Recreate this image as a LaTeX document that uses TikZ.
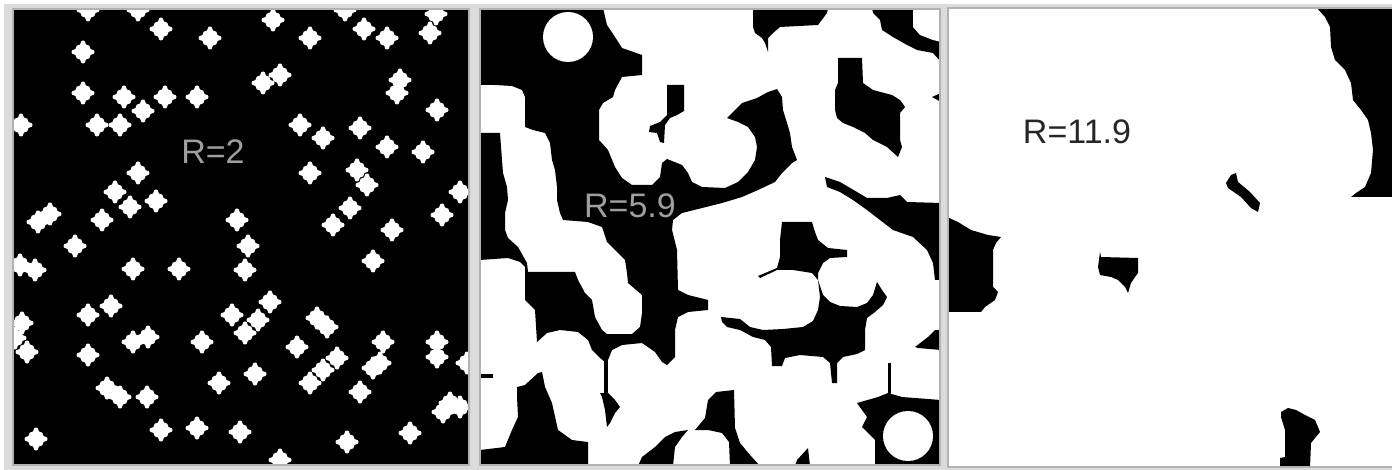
\documentclass[tikz,border=0pt]{standalone}
\usepackage{fontspec}
\setmainfont{Liberation Sans}
\usepackage{tikz}
\usetikzlibrary{positioning}

\tikzset{
  spot/.style={fill=white, rounded corners=2.2pt},
  ink/.style={fill=black},
  frame/.style={draw=gray!60, line width=1.2pt},
  lab/.style={inner sep=0pt, font=\fontsize{34}{40}\selectfont}
}

\begin{document}
\begin{tikzpicture}[x=1pt, y=-1pt]
  \useasboundingbox (0,0) rectangle (1392,470);
  \fill[white] (0,0) rectangle (1392,470);
  \fill[gray!28] (4,4) rectangle (1392,470);

  % --- panel 1: R=2, small diamonds
  \fill[black] (13,9) rectangle (469,465);
  \begin{scope}
    \clip (13,9) rectangle (469,465);
    \foreach \x/\y in {88/10, 138/10, 161/29, 210/38, 83/52, 83/93, 124/97,
      165/97, 197/97, 143/111, 97/125, 120/125, 21/125, 138/173, 115/192,
      130/207, 156/201, 38/222, 50/214, 102/220, 237/220, 75/246,
      273/20, 345/10, 364/29, 387/38, 310/38, 430/33, 436/14, 263/83,
      280/75, 400/80, 397/93, 437/110, 300/125, 323/138, 360/128, 387/147,
      423/152, 310/173, 357/170, 367/185, 460/192, 333/225, 350/208,
      392/230, 442/215,
      20/265, 35/270, 133/269, 179/269, 88/315, 111/306, 22/323, 27/352,
      15/338, 133/342, 148/337, 202/342, 88/355, 232/315, 107/388, 120/397,
      147/397, 219/383, 161/430, 197/428, 36/439, 240/432,
      248/246, 245/270, 373/261, 270/302, 258/320, 245/333, 317/318,
      327/327, 297/347, 337/358, 323/370, 310/383, 255/374, 383/342,
      373/368, 380/363, 360/392, 437/342, 437/357, 467/363, 450/403,
      460/407, 443/412, 347/442, 410/433, 280/460} {
      \fill[spot] (\x,\y) +(2.3,-11.5) -- +(2.3,-6.9) -- +(6.9,-6.9)
        -- +(6.9,-2.3) -- +(11.5,-2.3) -- +(11.5,2.3) -- +(6.9,2.3)
        -- +(6.9,6.9) -- +(2.3,6.9) -- +(2.3,11.5) -- +(-2.3,11.5)
        -- +(-2.3,6.9) -- +(-6.9,6.9) -- +(-6.9,2.3) -- +(-11.5,2.3)
        -- +(-11.5,-2.3) -- +(-6.9,-2.3) -- +(-6.9,-6.9) -- +(-2.3,-6.9)
        -- +(-2.3,-11.5) -- cycle;
    }
  \end{scope}
  \draw[frame] (13,9) rectangle (469,465);
  \node[lab, text=gray!75] (r2) at (213,152) {R=2};

  % --- panel 2: R=5.9, the black gaps between the disks
  \fill[white] (480,9) rectangle (940,465);
  \begin{scope}
    \clip (480,9) rectangle (940,465);
    % big connected gap
    \fill[ink] (480,8) -- (603,8) -- (607,25) -- (615,37) -- (622,48)
      -- (642,55) -- (642,75) -- (622,77) -- (615,90) -- (613,97)
      -- (603,103) -- (599,110) -- (599,140) -- (608,150) -- (615,167)
      -- (622,178) -- (632,185) -- (652,185) -- (660,177) -- (662,163)
      -- (667,159) -- (682,165) -- (688,173) -- (692,182) -- (702,187)
      -- (725,188) -- (738,182) -- (748,172) -- (755,160) -- (757,147)
      -- (755,137) -- (748,127) -- (738,122) -- (727,118) -- (732,113)
      -- (742,103) -- (757,98) -- (768,92) -- (777,89) -- (782,97)
      -- (783,110) -- (787,123) -- (790,133) -- (792,147) -- (797,160)
      -- (792,163) -- (782,173) -- (775,182) -- (758,190) -- (742,197)
      -- (722,203) -- (702,208) -- (682,213) -- (673,220) -- (672,230)
      -- (677,250) -- (678,290) -- (688,295) -- (708,300) -- (708,310)
      -- (688,312) -- (678,317) -- (675,330) -- (675,357) -- (667,365)
      -- (662,362) -- (655,352) -- (642,343) -- (622,345) -- (612,350)
      -- (608,360) -- (605,362) -- (600,358) -- (592,350) -- (588,340)
      -- (578,332) -- (560,330) -- (547,333) -- (537,342) -- (535,310)
      -- (525,300) -- (525,267) -- (520,262) -- (508,258) -- (480,260)
      -- (480,133) -- (500,133) -- (502,160) -- (503,173) -- (507,187)
      -- (508,200) -- (505,213) -- (505,230) -- (508,238) -- (518,247)
      -- (527,263) -- (528,272) -- (575,272) -- (578,280) -- (585,293)
      -- (592,300) -- (595,317) -- (602,330) -- (607,334) -- (632,334)
      -- (640,327) -- (642,313) -- (642,295) -- (628,283) -- (627,273)
      -- (625,260) -- (615,250) -- (607,242) -- (603,230) -- (602,227)
      -- (588,222) -- (563,220) -- (560,213) -- (557,200) -- (557,187)
      -- (555,170) -- (552,160) -- (550,143) -- (545,133) -- (533,130)
      -- (525,127) -- (525,97) -- (522,90) -- (512,86) -- (495,85)
      -- (480,85) -- cycle;
    \fill[white] (568,37) circle[radius=25pt];
    % smaller gaps
    \fill[ink] (667,85) -- (684,85) -- (684,111) -- (677,115) -- (670,118)
      -- (665,125) -- (664,143) -- (660,142) -- (657,133) -- (649,132)
      -- (650,126) -- (660,122) -- (667,115) -- cycle;
    \fill[ink] (753,8) -- (828,8) -- (827,13) -- (818,25) -- (780,27)
      -- (773,33) -- (768,38) -- (768,52) -- (765,43) -- (762,38)
      -- (755,33) -- (753,27) -- cycle;
    \fill[ink] (872,8) -- (941,8) -- (941,62) -- (933,53) -- (917,50)
      -- (907,45) -- (893,37) -- (882,30) -- (880,20) -- (873,13) -- cycle;
    \fill[white] (913,8) -- (913,27) -- (920,35) -- (933,40) -- (941,42)
      -- (941,8) -- cycle;
    \fill[ink] (838,58) -- (862,58) -- (863,83) -- (873,90) -- (892,95)
      -- (900,100) -- (905,107) -- (900,113) -- (900,140) -- (902,147)
      -- (898,157) -- (887,147) -- (873,140) -- (865,133) -- (853,127)
      -- (843,123) -- (837,118) -- (835,110) -- (835,90) -- (838,83) -- cycle;
    \fill[ink] (932,97) -- (941,93) -- (941,102) -- cycle;
    \fill[ink] (825,177) -- (840,182) -- (857,192) -- (867,198) -- (887,198)
      -- (900,195) -- (907,202) -- (941,203) -- (941,280) -- (935,280)
      -- (933,263) -- (927,250) -- (913,237) -- (893,230) -- (880,220)
      -- (867,210) -- (853,200) -- (840,192) -- (827,187) -- cycle;
    \fill[ink] (782,222) -- (812,222) -- (815,232) -- (818,240) -- (828,248)
      -- (847,250) -- (847,257) -- (830,258) -- (823,263) -- (818,273)
      -- (818,280) -- (812,273) -- (793,270) -- (777,270) -- (760,278)
      -- (758,276) -- (777,268) -- (780,257) -- (780,240) -- cycle;
    \fill[ink] (721,317) -- (740,319) -- (750,327) -- (763,330) -- (783,329)
      -- (803,327) -- (813,321) -- (818,310) -- (820,297) -- (818,280)
      -- (823,295) -- (830,302) -- (840,306) -- (857,307) -- (867,303)
      -- (873,295) -- (877,282) -- (882,290) -- (887,297) -- (883,305)
      -- (875,312) -- (867,318) -- (865,330) -- (865,350) -- (857,354)
      -- (843,357) -- (837,363) -- (837,383) -- (832,383) -- (830,363)
      -- (823,357) -- (800,355) -- (785,358) -- (782,366) -- (772,366)
      -- (771,347) -- (765,340) -- (753,337) -- (740,330) -- (727,327)
      -- (722,322) -- cycle;
    \fill[ink] (915,347) -- (928,337) -- (935,330) -- (941,330) -- (941,350)
      -- (918,348) -- cycle;
    \fill[ink] (480,374) rectangle (493,378);
    \fill[ink] (604,358) rectangle (608,395);
    \fill[ink] (600,393) -- (608,393) -- (615,400) -- (620,407) -- (615,413)
      -- (610,423) -- (607,427) -- (605,410) -- (602,397) -- cycle;
    \fill[ink] (517,387) -- (525,385) -- (538,373) -- (542,372) -- (545,387)
      -- (552,403) -- (558,430) -- (572,440) -- (588,442) -- (588,466)
      -- (480,466) -- (480,450) -- (505,447) -- (512,430) -- (518,417)
      -- (517,397) -- cycle;
    \fill[ink] (642,457) -- (655,447) -- (665,437) -- (675,432) -- (688,430)
      -- (682,437) -- (675,447) -- (673,466) -- (638,466) -- cycle;
    \fill[ink] (716,392) -- (734,390) -- (735,428) -- (740,443) -- (750,455)
      -- (760,466) -- (730,466) -- (729,442) -- (722,433) -- (708,430)
      -- (695,430) -- (705,418) -- (708,400) -- cycle;
    \fill[ink] (797,460) -- (808,448) -- (810,466) -- (795,466) -- cycle;
    \fill[ink] (888,363) rectangle (891,395);
    \fill[ink] (857,403) -- (878,397) -- (888,393) -- (902,397) -- (941,400)
      -- (941,466) -- (875,466) -- (875,440) -- (865,430) -- (862,427)
      -- (867,417) -- cycle;
    \fill[white] (908,436) circle[radius=25pt];
  \end{scope}
  \draw[frame] (480,9) rectangle (940,465);
  \node[lab, text=gray!75] (r59) at (630,206) {R=5.9};

  % --- panel 3: R=11.9, almost all covered
  \fill[white] (948,8) rectangle (1392,467);
  \begin{scope}
    \clip (948,8) rectangle (1392,467);
    \fill[ink] (1316,7) -- (1325,17) -- (1330,27) -- (1331,47) -- (1335,60)
      -- (1345,70) -- (1351,83) -- (1353,100) -- (1361,110) -- (1368,120)
      -- (1371,133) -- (1373,150) -- (1371,173) -- (1365,187) -- (1356,193)
      -- (1351,197) -- (1393,197) -- (1393,7) -- cycle;
    \fill[ink] (1231,175) -- (1236,173) -- (1238,182) -- (1250,192)
      -- (1260,203) -- (1258,212) -- (1251,208) -- (1241,197) -- (1228,188)
      -- (1226,183) -- cycle;
    \fill[ink] (947,217) -- (958,222) -- (971,230) -- (988,235) -- (1001,237)
      -- (996,243) -- (993,250) -- (993,287) -- (998,292) -- (995,300)
      -- (985,307) -- (981,312) -- (947,312) -- cycle;
    \fill[ink] (1100,252) -- (1101,257) -- (1138,258) -- (1138,273)
      -- (1135,277) -- (1131,283) -- (1128,293) -- (1125,287) -- (1118,280)
      -- (1111,277) -- (1100,275) -- (1098,267) -- cycle;
    \fill[ink] (1281,412) -- (1288,408) -- (1296,410) -- (1305,415)
      -- (1315,420) -- (1318,427) -- (1320,432) -- (1315,438) -- (1311,443)
      -- (1310,468) -- (1280,468) -- (1280,458) -- (1285,457) -- (1285,430)
      -- (1281,417) -- cycle;
  \end{scope}
  \draw[frame] (948,8) rectangle (1393,467);
  \node[lab, text=black!85] (r119) at (1077,132) {R=11.9};
\end{tikzpicture}
\end{document}
